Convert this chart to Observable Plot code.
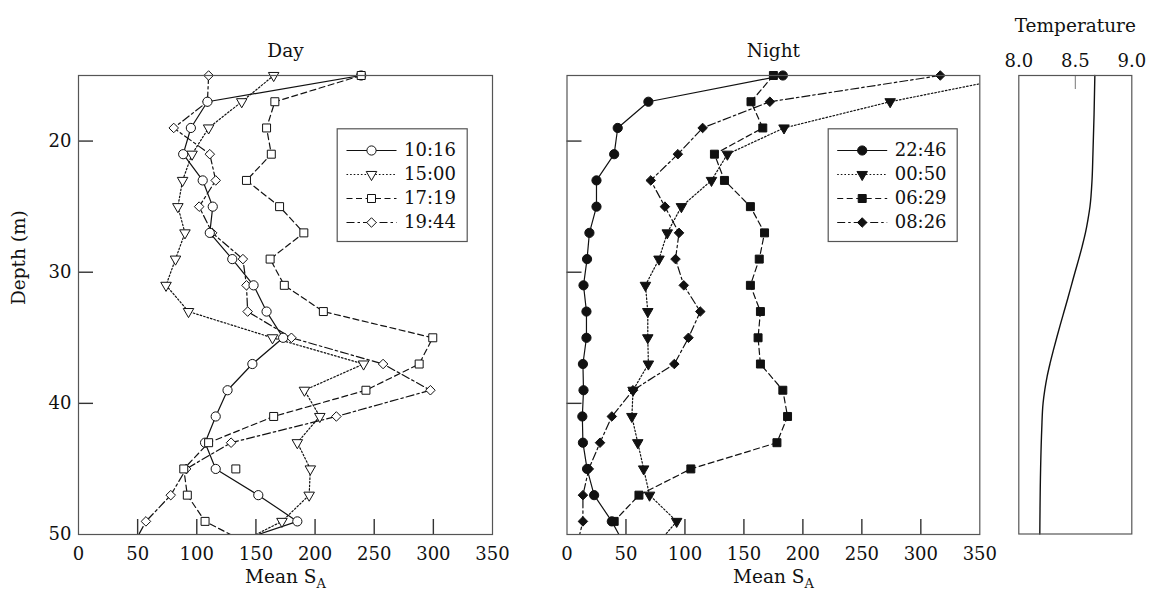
<!DOCTYPE html>
<html><head><meta charset="utf-8">
<script src="https://cdn.jsdelivr.net/npm/d3@7"></script>
<script src="https://cdn.jsdelivr.net/npm/@observablehq/plot@0.6"></script>
<style>
body{margin:0;background:#fff;}
#chart{position:relative;width:1157px;height:596px;background:#fff;}
#chart svg{position:absolute;left:0;top:0;}
</style></head><body><div id="chart"></div>
<script>
const W = 1157, H = 596;

// depths of the samples (m); 51 is drawn only as the line leaving the frame
const depths = [15,17,19,21,23,25,27,29,31,33,35,37,39,41,43,45,47,49,51];

// Day series (Mean S_A)
const dayNames = ["10:16","15:00","17:19","19:44"];
const day1016 = [239,109,95,88.5,105,113.5,111,130,148,159,173,147,126,116,107,116,152,185,119];
const day1500 = [165,138,110,96,88,84,90,82,74,93,164,241,191,204,185,196,195,172,128];
const day1719 = [239,166,159,163,142,170,190.5,162,174,207,299.5,288,243,165,110,89,92,107,150];
const day1944 = [110,109,80.5,111,116,102,113,139,142,143,180,257.5,297.5,218,129,91,78,57,45];
// isolated 17:19 square
const strayDepth = [45];
const strayValue = [133];

// Night series
const nightNames = ["22:46","00:50","06:29","08:26"];
const night2246 = [183,69,43,40,25,25,19,17,14,16.5,16.5,13.5,14,13,13.5,17,23,38,50];
const night0050 = [385,274,184,136,122.5,97,85,78,66.5,68.5,68.5,69,56,55,60,65,70,93,74];
const night0629 = [175,156,166,125,133.5,155.5,167.5,163,155.5,164,162,164,183,187,178,105,61,40,null];
const night0826 = [316.5,172,115,94,71,83,95,92,99,113,103,91,56,38,28,18.5,13.5,13.5,8];

// Temperature profile
const tempDepth = [15,18,21,23,25,26,27,28,29,30,31,32,33,34,35,36,37,38,39,40,42,45,50];
const tempValue = [8.673,8.666,8.656,8.648,8.630,8.612,8.590,8.562,8.531,8.498,8.466,8.434,8.401,8.368,8.336,8.305,8.276,8.250,8.230,8.215,8.203,8.193,8.186];

// tick labels
const xTickValues = [0,50,100,150,200,250,300,350];
const xInnerTicks = [50,100,150,200,250,300];
const yTickValues = [20,30,40,50];
const yInnerTicks = [20,30,40];
const tempTickValues = [8.0,8.5,9.0];
const tempInnerTicks = [8.5];

const FONT = "DejaVu Serif";
const INK = "#111";
const FRAME = "#555";
const TICK = "#333";

const seriesStyle = [
  {symbol:"circle",   rotate:0,   dash:null,       r:4.6},
  {symbol:"triangle", rotate:180, dash:"1.6,2",    r:3.9},
  {symbol:"square",   rotate:0,   dash:"6,3.5",    r:4.5},
  {symbol:"diamond2", rotate:0,   dash:"8,3,2.5,3",r:4.3}
];

function rowsOf(vals){
  return depths.map((d,j)=>({depth:d, value:vals[j]})).filter(r=>r.value!=null);
}

function panel({L,R,T,B,series,title,showY,fill,dotOrder}){
  const fw = R-L, fh = B-T;
  const marks = [];
  series.forEach((vals,i)=>{
    const st = seriesStyle[i];
    marks.push(Plot.line(rowsOf(vals),{x:"value",y:"depth",stroke:INK,strokeWidth:1.2,
      strokeDasharray:st.dash, clip:true}));
  });
  dotOrder.forEach(i=>{
    const st = seriesStyle[i];
    const rows = rowsOf(series[i]).filter(r=>r.depth<=50 && r.value<=350);
    marks.push(Plot.dot(rows,{x:"value",y:"depth",symbol:st.symbol,rotate:st.rotate,r:st.r,
      fill: fill ? INK : "white", stroke:INK, strokeWidth:1}));
  });
  marks.push(Plot.ruleX(xInnerTicks,{x:d=>d, insetTop:fh-15, stroke:TICK, strokeWidth:1.4}));
  marks.push(Plot.ruleY(yInnerTicks,{y:d=>d, insetRight:fw-15, stroke:TICK, strokeWidth:1.4}));
  marks.push(Plot.frame({stroke:FRAME, strokeWidth:1.2}));
  marks.push(Plot.text([title],{text:d=>d, frameAnchor:"top", dy:-32, fontSize:18.5, fill:INK}));
  marks.push(Plot.text(["Mean S"],{text:d=>d, frameAnchor:"bottom", dy:48.5, fontSize:18.5, fill:INK}));
  if (showY) marks.push(Plot.text(["Depth (m)"],{text:d=>d, frameAnchor:"left", dx:-(L-19), rotate:-90, fontSize:18.5, fill:INK}));
  return Plot.plot({
    width:W, height:H, marginLeft:L, marginRight:W-R, marginTop:T, marginBottom:H-B,
    style:{background:"transparent", fontFamily:FONT, fontSize:"18px", color:INK},
    x:{domain:[0,350], ticks:xTickValues, tickSize:0, tickPadding:13, label:null},
    y:{domain:[15,50], reverse:true, ticks:yTickValues, tickSize:0, tickPadding:7, label:null, axis: showY ? "left" : null},
    marks
  });
}

function legend({lineL,lineR,boxL,boxR,boxT,boxB,rowT,rowB,names,fill}){
  const marks = [Plot.frame({stroke:FRAME, strokeWidth:1.2, fill:"white",
    insetLeft:-(lineL-boxL), insetRight:-(boxR-lineR), insetTop:-(rowT-boxT), insetBottom:-(boxB-rowB)})];
  names.forEach((n,i)=>{
    const st = seriesStyle[i];
    marks.push(Plot.link([n],{x1:0,x2:1,y1:d=>d,y2:d=>d,stroke:INK,strokeWidth:1.2,strokeDasharray:st.dash}));
    marks.push(Plot.dot([n],{x:0.5,y:d=>d,symbol:st.symbol,rotate:st.rotate,r:st.r,
      fill: fill ? INK : "white", stroke:INK, strokeWidth:1}));
    marks.push(Plot.text([n],{x:1,y:d=>d,text:d=>d,dx:7.5,textAnchor:"start",fontSize:18,fill:INK}));
  });
  return Plot.plot({
    width:W, height:H, marginLeft:lineL, marginRight:W-lineR, marginTop:rowT, marginBottom:H-rowB,
    style:{background:"transparent", fontFamily:FONT, fontSize:"18px", color:INK},
    x:{domain:[0,1], axis:null},
    y:{type:"point", domain:names, padding:0, axis:null},
    marks
  });
}

function subscriptA(svg){
  svg.querySelectorAll("text").forEach(t=>{
    if (t.textContent === "Mean S") {
      const ts = document.createElementNS("http://www.w3.org/2000/svg","tspan");
      ts.setAttribute("dy","5");
      ts.setAttribute("font-size","13");
      ts.textContent = "A";
      t.appendChild(ts);
    }
  });
}

const chart = document.getElementById("chart");

const day = panel({L:78,R:492,T:75,B:534,series:[day1016,day1500,day1719,day1944],
  title:"Day", showY:true, fill:false, dotOrder:[1,3,0,2]});
const night = panel({L:566.5,R:979.3,T:75,B:534,series:[night2246,night0050,night0629,night0826],
  title:"Night", showY:false, fill:true, dotOrder:[1,3,2,0]});

const stray = Plot.plot({
  width:W, height:H, marginLeft:78, marginRight:W-492, marginTop:75, marginBottom:H-534,
  style:{background:"transparent"},
  x:{domain:[0,350], axis:null}, y:{domain:[15,50], reverse:true, axis:null},
  marks:[Plot.dot(strayDepth.map((d,i)=>({depth:d,value:strayValue[i]})),
    {x:"value",y:"depth",symbol:"square",r:seriesStyle[2].r,fill:"white",stroke:INK,strokeWidth:1})]
});

const temp = Plot.plot({
  width:W, height:H, marginLeft:1018.3, marginRight:W-1131.3, marginTop:75, marginBottom:H-533.5,
  style:{background:"transparent", fontFamily:FONT, fontSize:"18px", color:INK},
  x:{domain:[8,9], axis:"top", ticks:tempTickValues, tickFormat:d3.format(".1f"), tickSize:0, tickPadding:9, label:null},
  y:{domain:[15,50], reverse:true, axis:null},
  marks:[
    Plot.ruleX(tempInnerTicks,{x:d=>d, insetBottom:(533.5-75)-14, stroke:"#777", strokeWidth:1}),
    Plot.line(tempDepth.map((d,i)=>({depth:d,t:tempValue[i]})),{x:"t",y:"depth",curve:"monotone-y",stroke:INK,strokeWidth:1.4}),
    Plot.frame({stroke:FRAME, strokeWidth:1.2}),
    Plot.text(["Temperature"],{text:d=>d, frameAnchor:"top", dy:-57, fontSize:18.5, fill:INK})
  ]
});

const dayLegend = legend({lineL:346,lineR:396,boxL:336.7,boxR:466.7,boxT:128.3,boxB:241,rowT:149.3,rowB:222,names:dayNames,fill:false});
const nightLegend = legend({lineL:836.7,lineR:886.7,boxL:827.7,boxR:956.7,boxT:128.3,boxB:241,rowT:149.3,rowB:222,names:nightNames,fill:true});

[day, night].forEach(subscriptA);
[day, stray, night, temp, dayLegend, nightLegend].forEach(s=>chart.appendChild(s));
</script></body></html>
